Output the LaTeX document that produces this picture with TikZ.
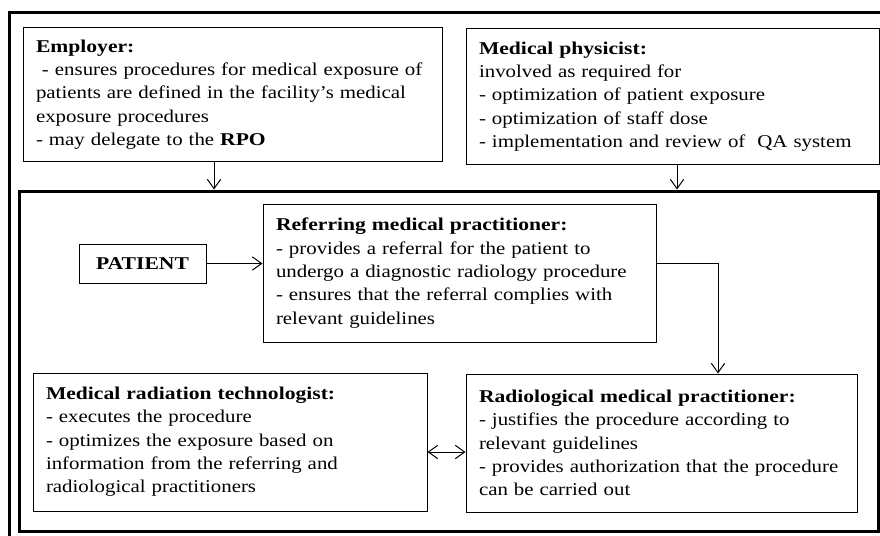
\documentclass[tikz,border=0pt]{standalone}
\usepackage{fontspec}
\setmainfont{Liberation Serif}[FakeStretch=1.16,
  BoldFont={Liberation Serif Bold}, BoldFeatures={FakeStretch=1.20}]
\usetikzlibrary{arrows.meta}
\newcommand\spillover{\rightskip=-20pt plus 2em\relax}
\begin{document}
\begin{tikzpicture}[x=0.75pt,y=-0.75pt,
    role/.style={draw, line width=0.75pt, align=left, inner xsep=9.75pt, inner ysep=0pt,
      font=\fontsize{13.5}{17.5}\selectfont, execute at begin node=\spillover},
    frame/.style={draw, line width=2.25pt},
    arr/.style={-{Straight Barb[length=7pt,width=10pt]}, line width=0.75pt},
    twoway/.style={{Straight Barb[length=7pt,width=10pt]}-{Straight Barb[length=7pt,width=10pt]}, line width=0.75pt}]
  \useasboundingbox (0,0) rectangle (880,535);
  \clip (0,0) rectangle (880,535);
  \draw[line width=2.25pt] (9,13) rectangle (888,543); %outer frame
  \node[frame, minimum width=644.25pt, minimum height=255pt] (inner) at (448.5,361) {};
  % top row
  \node[role, text width=294.75pt, minimum height=99.75pt] (emp) at (232.5,94.5)
    {\textbf{Employer:}\\
     \ - ensures procedures for medical exposure of\\
     patients are defined in the facility’s medical\\
     exposure procedures\\
     - may delegate to the \textbf{RPO}};
  \node[role, text width=290.25pt, minimum height=101.25pt] (phys) at (672.5,96.5)
    {\textbf{Medical physicist:}\\
     involved as required for\\
     - optimization of patient exposure\\
     - optimization of staff dose\\
     - implementation and review of \ QA system};
  % inside the frame
  \node[role, align=center, inner xsep=0pt, minimum width=95.25pt, minimum height=29.25pt,
    font=\fontsize{13.5}{17.5}\selectfont\bfseries] (pat) at (142.5,263.5) {PATIENT};
  \node[role, text width=275.25pt, minimum height=103.5pt] (ref) at (459.5,273)
    {\textbf{Referring medical practitioner:}\\
     - provides a referral for the patient to\\
     undergo a diagnostic radiology procedure\\
     - ensures that the referral complies with\\
     relevant guidelines};
  \node[role, text width=276pt, minimum height=103.5pt] (tech) at (230,442)
    {\textbf{Medical radiation technologist:}\\
     - executes the procedure\\
     - optimizes the exposure based on\\
     information from the referring and\\
     radiological practitioners};
  \node[role, text width=273.75pt, minimum height=103.5pt] (rad) at (661.5,443)
    {\textbf{Radiological medical practitioner:}\\
     - justifies the procedure according to\\
     relevant guidelines\\
     - provides authorization that the procedure\\
     can be carried out};
  % connectors
  \coordinate (empdrop) at (214,0);
  \coordinate (physdrop) at (677,0);
  \coordinate (raddrop) at (718,0);
  \coordinate (link) at (0,452);
  \draw[arr] (emp.south -| empdrop) -- (empdrop |- inner.north);
  \draw[arr] (phys.south -| physdrop) -- (physdrop |- inner.north);
  \draw[arr] (pat.east) -- (pat -| ref.west);
  \draw[arr] (ref.east |- pat) -| (raddrop |- rad.north);
  \draw[twoway] (tech.east |- link) -- (rad.west |- link);
\end{tikzpicture}
\end{document}
